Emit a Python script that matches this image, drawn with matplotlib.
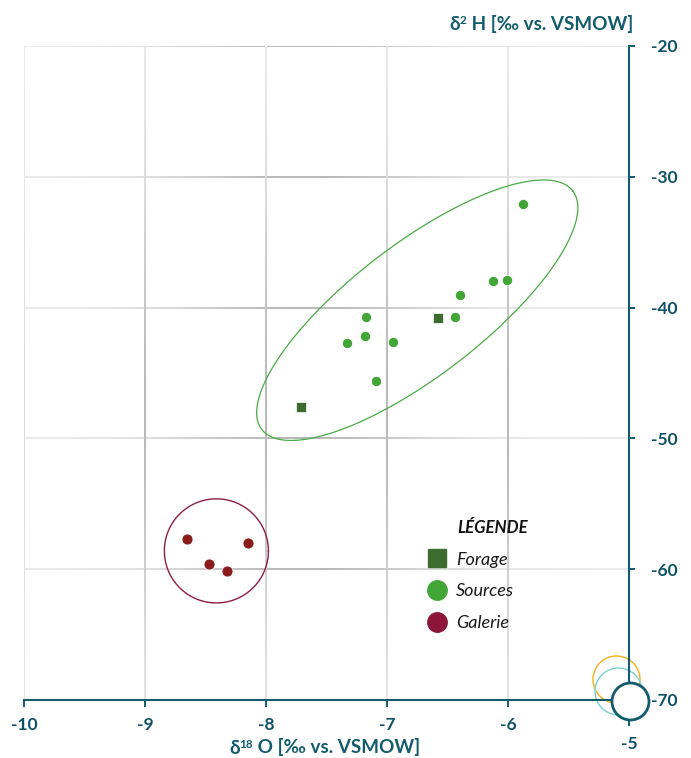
import numpy as np
import matplotlib
matplotlib.use("Agg")
import matplotlib.pyplot as plt
from matplotlib.collections import LineCollection
from matplotlib.lines import Line2D
from matplotlib.transforms import ScaledTranslation
from matplotlib.colors import to_rgb
from matplotlib.font_manager import FontProperties

plt.rcParams["font.family"] = ["Lato", "DejaVu Sans"]

# ---- data -------------------------------------------------------------
forage_d18o = [-6.58, -7.71]
forage_d2h = [-40.8, -47.6]

sources_d18o = [-5.88, -6.12, -6.01, -6.40, -6.44, -7.17, -7.18, -7.33, -6.95, -7.09]
sources_d2h = [-32.1, -38.0, -37.9, -39.0, -40.7, -40.7, -42.2, -42.7, -42.6, -45.6]

galerie_d18o = [-8.65, -8.15, -8.47, -8.32]
galerie_d2h = [-57.7, -58.0, -59.6, -60.1]

# grouping envelopes (centre, conjugate semi-axis vectors in data units)
sources_env_center = (-6.75, -40.2)
sources_env_u = (1.285, 9.12)
sources_env_v = (-0.332, 4.0)
galerie_env_center = (-8.41, -58.6)
galerie_env_r = (0.43, 3.98)

x_ticks = [-10, -9, -8, -7, -6, -5]
y_ticks = [-70, -60, -50, -40, -30, -20]
legend_labels = ["Forage", "Sources", "Galerie"]
legend_title = "LÉGENDE"

# ---- style ------------------------------------------------------------
W, H, DPI = 691, 758, 100
TEAL = "#125c6d"
LABEL = "#0f5266"
C_FORAGE = "#3e6b30"
C_SOURCES = "#42a636"
C_GALERIE = "#8a1c1c"
C_GALERIE_LEG = "#8b1639"
C_ENV_SRC = "#4aab45"
C_ENV_GAL = "#8e1d45"

fig = plt.figure(figsize=(W / DPI, H / DPI), dpi=DPI)
ax = fig.add_axes([24 / W, 58 / H, 605 / W, 654 / H])
ax.set_xlim(-10, -5)
ax.set_ylim(-70, -20)

# ---- shaded grid ------------------------------------------------------
light = np.array(to_rgb("#ebebeb"))
dark = np.array(to_rgb("#b9b9b9"))
segs, cols = [], []
xs = np.linspace(-10, -5, 241)
for yv in y_ticks[1:]:
    xm = 0.5 * (xs[:-1] + xs[1:])
    w = np.exp(-((xm + 7.7) / 1.1) ** 2)
    for i in range(len(xm)):
        segs.append([(xs[i], yv), (xs[i + 1], yv)])
        cols.append(light + (dark - light) * w[i])
ys = np.linspace(-70, -20, 241)
for xv in x_ticks[:-1]:
    ym = 0.5 * (ys[:-1] + ys[1:])
    w = np.exp(-((ym + 48) / 16) ** 2) * (0.35 if xv == -10 else 1.0)
    for i in range(len(ym)):
        segs.append([(xv, ys[i]), (xv, ys[i + 1])])
        cols.append(light + (dark - light) * w[i])
ax.add_collection(LineCollection(segs, colors=cols, linewidths=1.45,
                                 capstyle="butt", zorder=0.5))

# ---- envelopes --------------------------------------------------------
t = np.linspace(0, 2 * np.pi, 400)
ex = sources_env_center[0] + np.cos(t) * sources_env_u[0] + np.sin(t) * sources_env_v[0]
ey = sources_env_center[1] + np.cos(t) * sources_env_u[1] + np.sin(t) * sources_env_v[1]
ax.plot(ex, ey, color=C_ENV_SRC, lw=0.9, zorder=2)
gx = galerie_env_center[0] + galerie_env_r[0] * np.cos(t)
gy = galerie_env_center[1] + galerie_env_r[1] * np.sin(t)
ax.plot(gx, gy, color=C_ENV_GAL, lw=1.0, zorder=2)

# ---- points -----------------------------------------------------------
ax.scatter(sources_d18o, sources_d2h, s=55, marker="o", color=C_SOURCES,
           edgecolor="white", linewidth=0.6, zorder=3)
ax.scatter(forage_d18o, forage_d2h, s=62, marker="s", color=C_FORAGE,
           edgecolor="white", linewidth=0.5, zorder=3)
ax.scatter(galerie_d18o, galerie_d2h, s=62, marker="o", color=C_GALERIE,
           edgecolor="white", linewidth=0.5, zorder=3)

# ---- axes, spines, ticks ---------------------------------------------
for side in ("left", "top"):
    ax.spines[side].set_visible(False)
for side in ("bottom", "right"):
    ax.spines[side].set_color(TEAL)
    ax.spines[side].set_linewidth(1.5)
    ax.spines[side].set_zorder(3.5)

ax.yaxis.tick_right()
ax.set_xticks(x_ticks)
ax.set_yticks(y_ticks)
ax.set_xticklabels([str(v) for v in x_ticks])
ax.set_yticklabels([str(v) for v in y_ticks])
ax.tick_params(axis="x", direction="out", length=5.2, width=1.4, color=TEAL,
               pad=7, labelsize=12.5, labelcolor=LABEL)
ax.tick_params(axis="y", direction="out", length=4.5, width=1.4, color=TEAL,
               pad=11, labelsize=12.5, labelcolor=LABEL)
for lab in ax.get_xticklabels() + ax.get_yticklabels():
    lab.set_fontweight("bold")

# corner ornament
def corner_ring(dx_px, dy_px, diam_px, face, edge, lw, z):
    off = ScaledTranslation(dx_px / DPI, dy_px / DPI, fig.dpi_scale_trans)
    ax.plot([1], [0], marker="o", ms=diam_px * 72 / DPI, mfc=face, mec=edge,
            mew=lw, transform=ax.transAxes + off, clip_on=False, zorder=z)

corner_ring(-12.5, 21.0, 47, "none", "#f3b020", 1.0, 3.0)
corner_ring(-10.5, 9.0, 47, "none", "#7fd0cb", 1.0, 3.1)
corner_ring(1.0, -0.7, 37, "white", TEAL, 2.0, 6)

# drop the last x tick below the ornament
fig.canvas.draw()
last = ax.xaxis.get_major_ticks()[-1]
drop = ScaledTranslation(0, -19 / DPI, fig.dpi_scale_trans)
last.tick1line.set_transform(last.tick1line.get_transform() + drop)
last.label1.set_transform(last.label1.get_transform() + drop)

# ---- legend -----------------------------------------------------------
handles = [
    Line2D([], [], ls="", marker="s", ms=13, mfc=C_FORAGE, mec=C_FORAGE),
    Line2D([], [], ls="", marker="o", ms=14, mfc=C_SOURCES, mec=C_SOURCES),
    Line2D([], [], ls="", marker="o", ms=14, mfc=C_GALERIE_LEG, mec=C_GALERIE_LEG),
]
leg = ax.legend(handles, legend_labels, loc="upper left",
                bbox_to_anchor=(0.668, 0.227), frameon=False,
                prop=FontProperties(family="Lato", style="italic", size=13),
                handlelength=1.0, handletextpad=0.55, labelspacing=0.88,
                borderpad=0, borderaxespad=0)
leg.set_zorder(5)
for txt in leg.get_texts():
    txt.set_color("#1a1a1a")
ax.text(0.716, 0.263, legend_title, transform=ax.transAxes, ha="left",
        va="center", fontsize=12.2, fontweight="bold", fontstyle="italic",
        color="#111111", zorder=5)

# ---- axis titles with superscripts -----------------------------------
renderer = fig.canvas.get_renderer()


def chained_title(pieces, x_px, base_px, align="left"):
    arts, x = [], x_px
    for txt, size, rise in pieces:
        a = fig.text(x / W, (base_px + rise) / H, txt, fontsize=size,
                     fontweight="bold", color=TEAL, ha="left", va="baseline",
                     family=["Lato", "DejaVu Sans"])
        x += a.get_window_extent(renderer).width
        arts.append(a)
    if align == "right":
        shift = x_px - x
        for a in arts:
            px, py = a.get_position()
            a.set_position((px + shift / W, py))
    return arts


chained_title([("δ", 13.6, 0), ("2", 8.5, 6), (" H [‰ vs. VSMOW]", 13.6, 0)],
              633, H - 30, align="right")
chained_title([("δ", 13.6, 0), ("18", 8.5, 6), (" O [‰ vs. VSMOW]", 13.6, 0)],
              229, 4.5)

fig.savefig("out.png", dpi=DPI)
